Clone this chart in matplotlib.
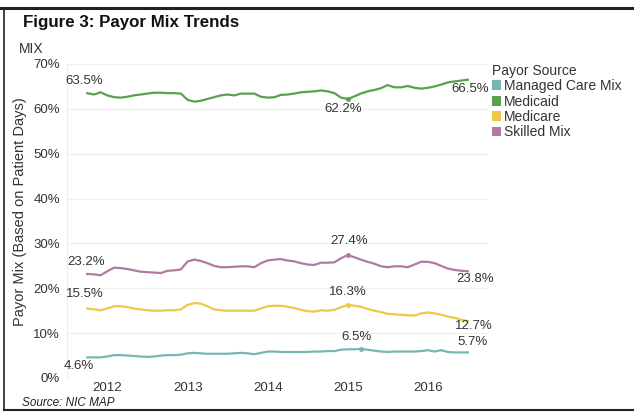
import pandas as pd
import matplotlib
matplotlib.use("Agg")
import matplotlib.pyplot as plt
import matplotlib.dates as mdates
from matplotlib.lines import Line2D
from matplotlib.patches import Patch
from matplotlib.ticker import FuncFormatter

plt.rcParams["font.family"] = ["Liberation Sans", "DejaVu Sans"]

# monthly payor mix, Oct 2011 - Jul 2016
months = pd.date_range("2011-10-01", periods=58, freq="MS")

managed_care = [
    4.6, 4.6, 4.6, 4.8, 5.1, 5.1, 5.0, 4.9, 4.8, 4.7, 4.8, 5.0,
    5.1, 5.1, 5.2, 5.5, 5.6, 5.5, 5.4, 5.4, 5.4, 5.4, 5.5, 5.6,
    5.5, 5.3, 5.6, 5.9, 5.9, 5.8, 5.8, 5.8, 5.8, 5.8, 5.9, 5.9,
    6.0, 6.0, 6.3, 6.4, 6.4, 6.5, 6.3, 6.1, 5.9, 5.8, 5.9, 5.9,
    5.9, 5.9, 6.0, 6.2, 5.9, 6.2, 5.8, 5.7, 5.7, 5.7,
]
medicaid = [
    63.5, 63.2, 63.7, 63.0, 62.6, 62.5, 62.7, 63.0, 63.2, 63.4, 63.6, 63.6,
    63.5, 63.5, 63.4, 62.0, 61.6, 61.8, 62.2, 62.6, 63.0, 63.2, 63.0, 63.4,
    63.4, 63.4, 62.7, 62.5, 62.6, 63.1, 63.2, 63.4, 63.7, 63.8, 63.9, 64.1,
    63.9, 63.5, 62.5, 62.2, 62.8, 63.4, 63.9, 64.2, 64.6, 65.3, 64.8, 64.8,
    65.1, 64.7, 64.5, 64.7, 65.0, 65.4, 65.9, 66.1, 66.3, 66.5,
]
medicare = [
    15.5, 15.3, 15.1, 15.5, 16.0, 16.0, 15.8, 15.5, 15.3, 15.1, 15.0, 15.0,
    15.1, 15.1, 15.3, 16.3, 16.7, 16.6, 16.0, 15.3, 15.1, 15.0, 15.0, 15.0,
    15.0, 15.0, 15.5, 16.0, 16.1, 16.1, 15.9, 15.6, 15.2, 14.9, 14.8, 15.1,
    15.0, 15.2, 15.8, 16.3, 16.1, 15.9, 15.4, 15.0, 14.7, 14.3, 14.2, 14.1,
    14.0, 13.9, 14.4, 14.6, 14.4, 14.1, 13.7, 13.4, 13.0, 12.7,
]
skilled_mix = [
    23.2, 23.1, 22.9, 23.8, 24.6, 24.5, 24.3, 24.0, 23.7, 23.6, 23.5, 23.4,
    23.9, 24.0, 24.2, 26.0, 26.4, 26.1, 25.6, 25.0, 24.7, 24.7, 24.8, 24.9,
    24.9, 24.7, 25.6, 26.2, 26.4, 26.5, 26.2, 26.0, 25.6, 25.3, 25.2, 25.7,
    25.7, 25.8, 26.7, 27.4, 26.9, 26.4, 25.9, 25.5, 24.9, 24.7, 24.9, 24.9,
    24.7, 25.3, 25.9, 25.9, 25.6, 25.0, 24.4, 24.1, 23.9, 23.8,
]

series_names = ["Managed Care Mix", "Medicaid", "Medicare", "Skilled Mix"]
series_values = [managed_care, medicaid, medicare, skilled_mix]
colors = ["#76B7B2", "#59A14F", "#EDC948", "#B07AA1"]
# month index of the labelled mid point (peak / trough) per series
mid_points = [41, 39, 39, 39]

# label offsets in pixels: start, mid, end
offsets = [
    [(-8, -9), (-4, 12), (5, 10)],
    [(-3, 12), (-5, -10), (2, -9)],
    [(-2, 14), (0, 13), (6, -5)],
    [(-1, 12), (1, 14), (7, -8)],
]

W, H = 634, 412
fig = plt.figure(figsize=(W / 100, H / 100), dpi=100)
ax = fig.add_axes([67 / W, 1 - 378 / H, (488 - 67) / W, (378 - 64) / H])

for name, vals, col, mid, offs in zip(series_names, series_values, colors, mid_points, offsets):
    ax.plot(months, vals, color=col, lw=1.6, solid_joinstyle="round")
    ax.plot(months[mid], vals[mid], "o", color=col, ms=2.5)
    for idx, off in zip([0, mid, len(vals) - 1], offs):
        ax.annotate(f"{vals[idx]:.1f}%", (months[idx], vals[idx]), xytext=off,
                    textcoords="offset pixels", ha="center", va="center",
                    fontsize=9.5, color="#333333")

ax.set_ylim(0, 70)
ax.set_yticks(range(0, 71, 10))
ax.yaxis.set_major_formatter(FuncFormatter(lambda v, p: f"{v:.0f}%"))
ax.set_xlim(pd.Timestamp("2011-07-01"), pd.Timestamp("2016-10-01"))
ax.xaxis.set_major_locator(mdates.YearLocator())
ax.xaxis.set_major_formatter(mdates.DateFormatter("%Y"))
ax.tick_params(length=0, labelsize=9.5, labelcolor="#333333")
ax.tick_params(axis="y", pad=5)
ax.tick_params(axis="x", pad=3)
ax.grid(axis="y", color="#eeeeee", lw=0.8)
ax.set_axisbelow(True)
for s in ["top", "right", "bottom"]:
    ax.spines[s].set_visible(False)
ax.spines["left"].set_color("#eeeeee")
ax.spines["left"].set_linewidth(0.8)

ax.set_ylabel("Payor Mix (Based on Patient Days)", fontsize=10.5, color="#333333")
ax.yaxis.set_label_coords(-40 / (488 - 67), (378 - 212) / (378 - 64))

handles = [Patch(facecolor=c, edgecolor="none") for c in colors]
leg = fig.legend(handles, series_names, title="Payor Source", loc="upper left",
                 bbox_to_anchor=(482 / W, 1 - 54 / H), frameon=False, fontsize=10,
                 title_fontsize=10, handlelength=0.7, handleheight=0.7,
                 handletextpad=0.15, labelspacing=0.1, borderpad=0.2,
                 alignment="left")
for t in leg.get_texts():
    t.set_color("#333333")
leg.get_title().set_color("#333333")

fig.text(23 / W, 1 - 22 / H, "Figure 3: Payor Mix Trends", fontsize=12.2,
         fontweight="bold", va="center", ha="left", color="#111111")
fig.text(19 / W, 1 - 49 / H, "MIX", fontsize=10, va="center", ha="left", color="#333333")
fig.text(22 / W, 1 - 403 / H, "Source: NIC MAP", fontsize=8.5, style="italic",
         va="center", ha="left", color="#222222")

# frame around the figure (top, left, bottom)
fig.add_artist(Line2D([0, 1], [1 - 8 / H] * 2, color="#222222", lw=2.2, transform=fig.transFigure))
fig.add_artist(Line2D([4 / W] * 2, [1 - 8 / H, 1 - 410 / H], color="#222222", lw=1.2, transform=fig.transFigure))
fig.add_artist(Line2D([4 / W, 1], [1 - 410 / H] * 2, color="#222222", lw=1.5, transform=fig.transFigure))

fig.savefig("out.png", dpi=100)
